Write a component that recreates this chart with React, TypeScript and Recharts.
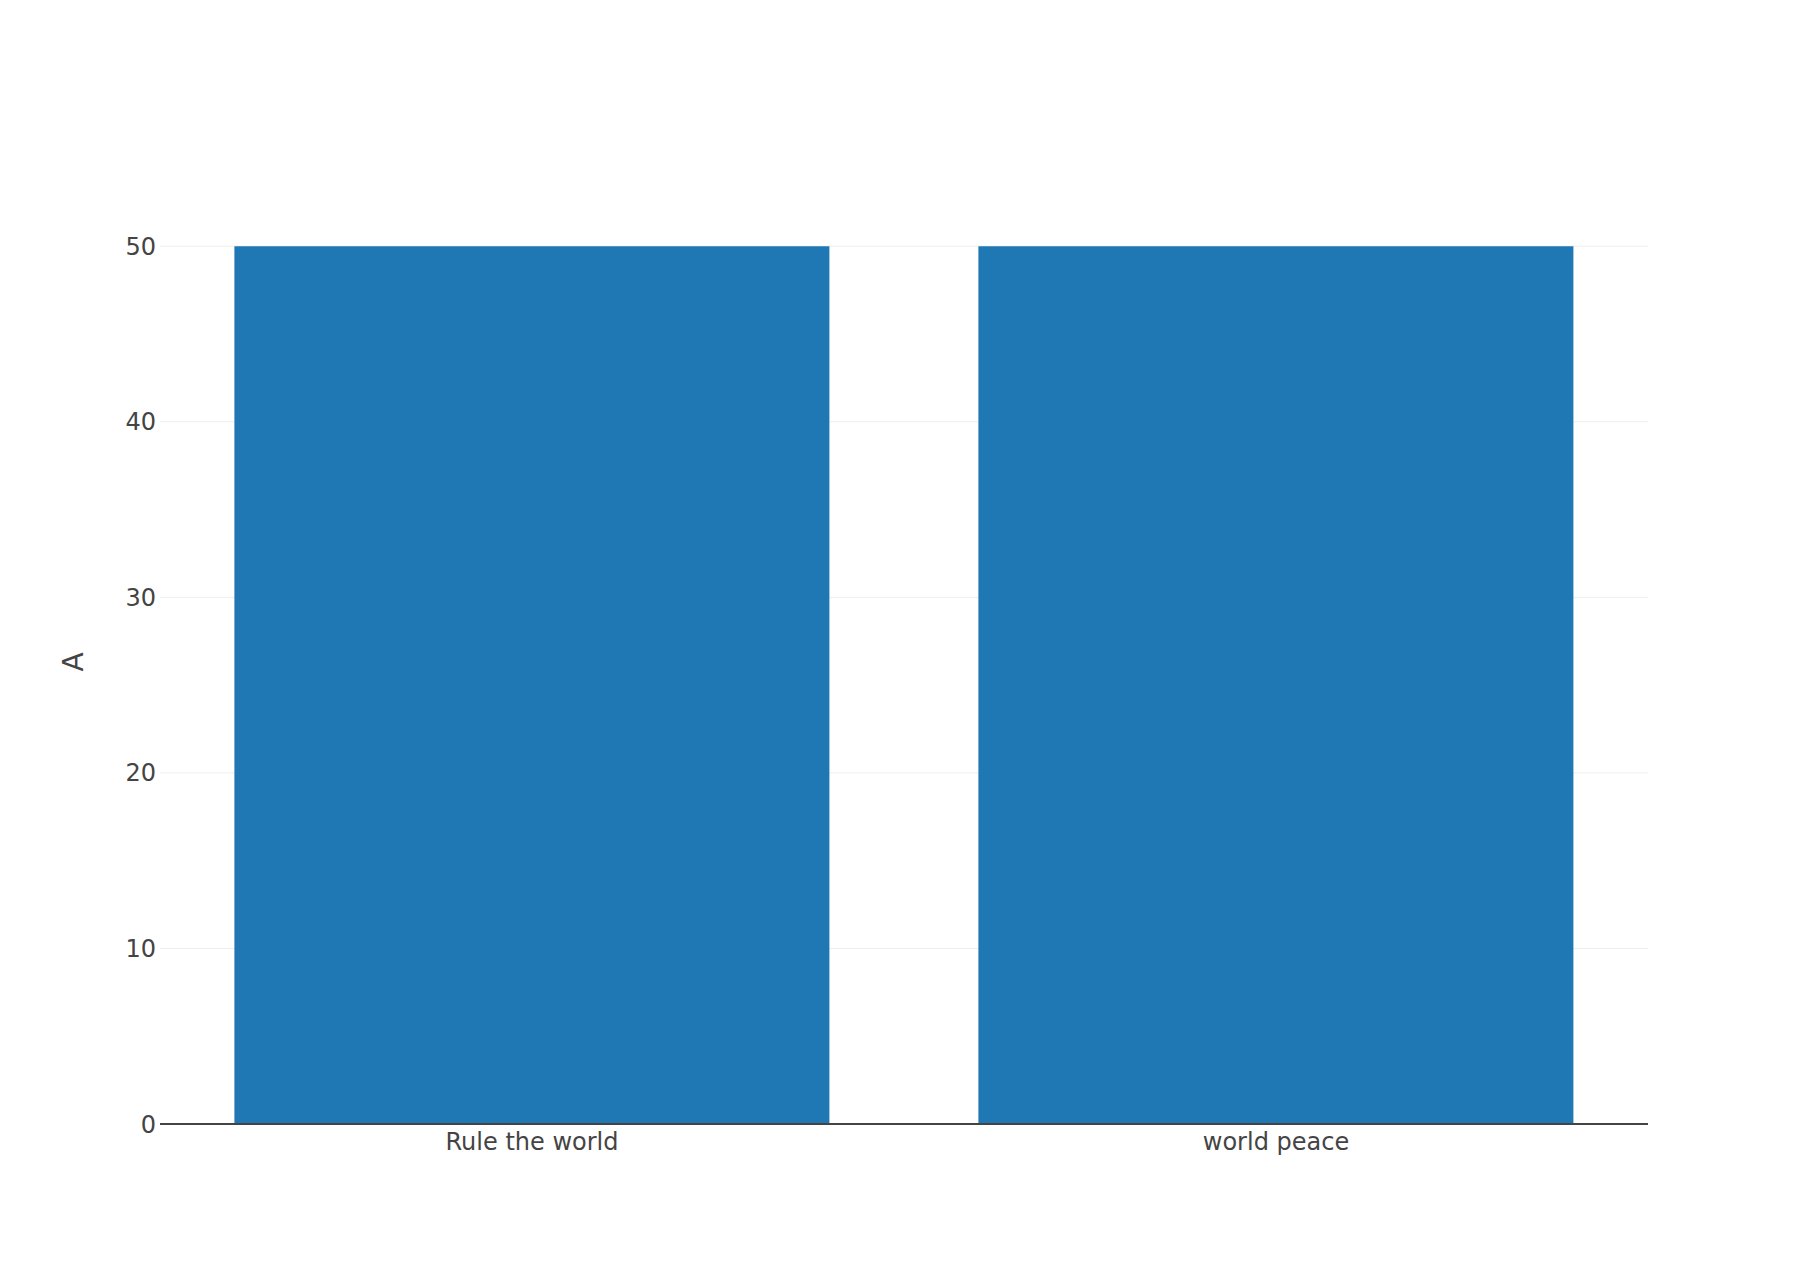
import { BarChart, Bar, XAxis, YAxis, CartesianGrid } from 'recharts';

// categories and values
const categories = ['Rule the world', 'world peace'];
const values = [50, 50];
const yTicks = [0, 10, 20, 30, 40, 50];
const yMax = 52.63;

const data = categories.map((name, i) => ({ name, A: values[i] }));

const font = '"DejaVu Sans", sans-serif';
const textColor = '#444';

const YTitle = (props: any) => {
  const vb = props.viewBox || {};
  const x = vb.x + 73;
  const y = vb.y + vb.height / 2;
  return (
    <text
      x={x}
      y={y}
      transform={`rotate(-90, ${x}, ${y})`}
      textAnchor="middle"
      dominantBaseline="central"
      fill={textColor}
      fontSize={28}
      fontFamily={font}
    >
      A
    </text>
  );
};

const App = () => {
  return (
    <div style={{ width: 1810, height: 1284, background: '#fff' }}>
      <style>{'body{margin:0}'}</style>
      <BarChart
        width={1810}
        height={1284}
        data={data}
        margin={{ top: 200, right: 162, bottom: 0, left: 0 }}
        barCategoryGap="10%"
      >
        <CartesianGrid
          vertical={false}
          horizontalValues={yTicks.slice(1)}
          stroke="#eee"
          strokeWidth={1}
        />
        <XAxis
          dataKey="name"
          height={160}
          tickSize={0}
          tickMargin={9}
          axisLine={{ stroke: textColor, strokeWidth: 2 }}
          tick={{ fill: textColor, fontSize: 24, fontFamily: font }}
        />
        <YAxis
          width={160}
          domain={[0, yMax]}
          ticks={yTicks}
          allowDataOverflow
          axisLine={false}
          tickLine={false}
          tickSize={0}
          tickMargin={4}
          tick={{ fill: textColor, fontSize: 24, fontFamily: font }}
          label={<YTitle />}
        />
        <Bar dataKey="A" fill="#1f77b4" isAnimationActive={false} />
      </BarChart>
    </div>
  );
};

export default App;
